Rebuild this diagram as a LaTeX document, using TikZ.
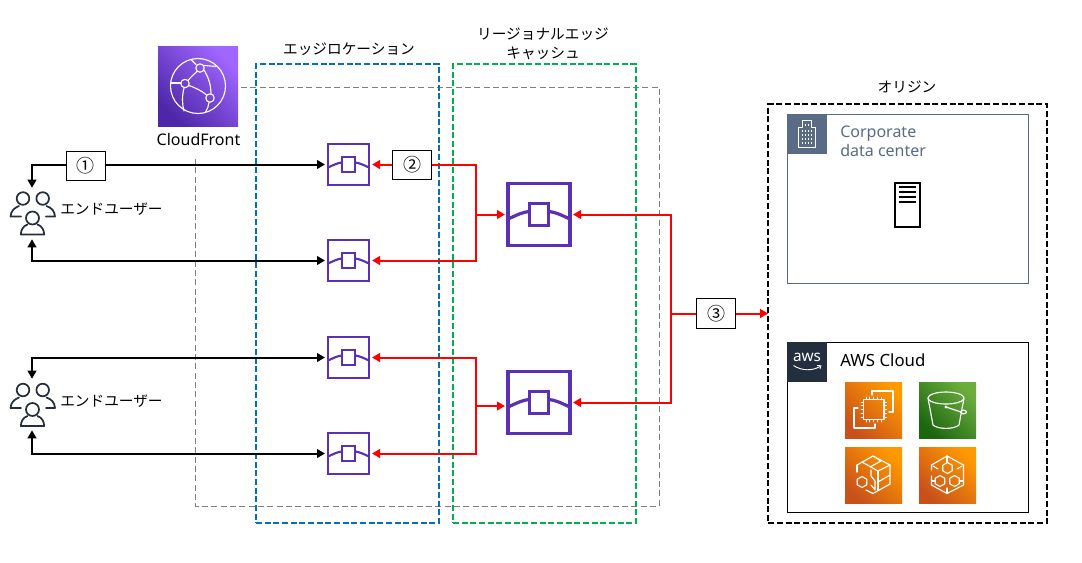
\documentclass[tikz,border=0pt]{standalone}
\usepackage{fontspec}
\setmainfont{Noto Sans}
\newfontfamily\jp{Noto Sans CJK JP}
\usetikzlibrary{arrows.meta,calc}
\definecolor{edgepurple}{HTML}{5A30B5}
\definecolor{cfa}{HTML}{4D27A8}
\definecolor{cfb}{HTML}{A166FF}
\definecolor{ora}{HTML}{C8511B}
\definecolor{orb}{HTML}{FF9900}
\definecolor{gra}{HTML}{1B660F}
\definecolor{grb}{HTML}{6CAE3E}
\definecolor{awsdark}{HTML}{232F3E}
\definecolor{corp}{HTML}{5A6B86}
\definecolor{locblue}{HTML}{0070C0}
\definecolor{regreen}{HTML}{00B050}
\definecolor{zonegray}{HTML}{7F7F7F}
\tikzset{
  jptext/.style={font=\jp\fontsize{11}{14.25}\selectfont,inner sep=0pt,align=center},
  lattext/.style={font=\fontsize{12}{14.25}\selectfont,inner sep=0pt,align=left},
  zonebox/.style={draw,line width=1.5pt,dash pattern=on 4.5pt off 2pt,inner sep=0pt,outer sep=0pt},
  edgesmall/.style={draw=edgepurple,line width=1.7pt,fill=white,minimum size=30.75pt,inner sep=0pt,outer sep=0pt},
  edgebig/.style={draw=edgepurple,line width=2.5pt,fill=white,minimum size=46.5pt,inner sep=0pt,outer sep=0pt},
  numbox/.style={draw=black,line width=.75pt,fill=white,minimum width=29.25pt,minimum height=22pt,inner sep=0pt,font=\jp\fontsize{13.5}{14}\selectfont},
  blk/.style={draw=black,line width=1.5pt,{Triangle[length=6pt,width=6.5pt]}-{Triangle[length=6pt,width=6.5pt]}},
  rdl/.style={draw=red,line width=1.5pt,-{Triangle[length=6pt,width=6.5pt]}},
  ico/.style={draw=white,line width=.85pt,line cap=round,line join=round},
  tile/.style={inner sep=0pt,outer sep=0pt,minimum width=42.75pt,minimum height=42pt},
  orangetile/.style={tile,shading=axis,left color=ora,right color=orb,shading angle=135},
  greentile/.style={tile,shading=axis,left color=gra,right color=grb,shading angle=135},
  peop/.style={draw=awsdark,line width=1.3pt,line cap=round,line join=round},
  usernode/.style={inner sep=0pt,minimum width=34pt,minimum height=38.25pt},
}
\newcommand{\smallhex}[3]{%
  \draw[ico] ($(#1,#2)+(0,-#3)$) -- ++(.866*#3,.5*#3) -- ++(0,#3) -- ++(-.866*#3,.5*#3) -- ++(-.866*#3,-.5*#3) -- ++(0,-#3) -- cycle;}
\newcommand{\edgeglyph}[3]{%
  \begin{scope}[shift={(#1,#2)},scale=#3]
    \draw[edgepurple,line width=#3*1.6pt] (-20.5,3) .. controls (-14,0) and (-11,-1.5) .. (-6.5,-2);
    \draw[edgepurple,line width=#3*1.6pt] (20.5,3) .. controls (14,0) and (11,-1.5) .. (6.5,-2);
    \draw[edgepurple,line width=#3*1.6pt,fill=white] (-6.5,-7.5) rectangle (6.5,7.5);
  \end{scope}}
\newcommand{\usersglyph}[1]{%
  \begin{scope}[shift={(0,#1)}]
    \draw[peop] (23,198.5) circle (6.3);
    \draw[peop] (42.7,198.5) circle (6.3);
    \draw[peop] (19,206) .. controls (14,208) and (11,211) .. (10.5,216.5) -- (21,216.5);
    \draw[peop] (46.5,206) .. controls (52,208) and (54.5,211) .. (55,216.5) -- (46,216.5);
    \draw[peop] (32.5,218) circle (6.5);
    \draw[peop] (27.5,224.5) .. controls (23,226) and (21,230) .. (20.8,234.5) -- (44.2,234.5) .. controls (44,230) and (42,226) .. (37.5,224.5);
  \end{scope}}
\begin{document}
\begin{tikzpicture}[x=.75pt,y=-.75pt]
\useasboundingbox (0,0) rectangle (1082,562);
\fill[white] (0,0) rectangle (1082,562);

% grey zone
\draw[zonegray,line width=.75pt,dash pattern=on 4.5pt off 2.5pt] (241,87) -- (659,87) -- (659,506) -- (195.5,506) -- (195.5,159);

% location boxes
\node[zonebox,draw=locblue,minimum width=137.25pt,minimum height=344pt] (loc) at (347.5,293.5) {};
\node[zonebox,draw=regreen,minimum width=137.25pt,minimum height=344pt] (reg) at (544.5,293.5) {};
\node[jptext] (loclab) at (349,49) {エッジロケーション};
\node[jptext] (reglab) at (543,43.5) {リージョナルエッジ\\キャッシュ};

% CloudFront
\node[inner sep=0pt,outer sep=0pt,minimum size=60pt,shading=axis,left color=cfa,right color=cfb,shading angle=135] (cf) at (198,86) {};
\draw[ico] (198,86) circle (27.5);
\foreach \a/\b in {200/68,185/83.5,210/98}{\draw[ico] (\a,\b) circle (4.2);}
\draw[ico] (197,71.5) .. controls (193,75) and (190,78) .. (188,80.5);
\draw[ico] (189,85.5) .. controls (196,88) and (202,91) .. (206.5,95);
\draw[ico] (204,70) .. controls (209,78) and (211,86) .. (211,93.5);
\draw[ico] (184,88) .. controls (182,96) and (182,104) .. (184,111);
\draw[ico] (209,102.5) .. controls (208.5,106) and (207.5,109) .. (205.5,112);
\draw[ico] (171,83) -- (180.5,83);
\draw[ico] (191,59.5) -- (196,64.5);
\draw[ico] (204.5,65.5) -- (216,66.5);
\node[lattext] (cflab) at (198.5,139) {CloudFront};

% Edge icons
\node[edgesmall] (e1) at (348.5,164.5) {};
\node[edgesmall] (e2) at (348.5,260.5) {};
\node[edgesmall] (e3) at (348.5,357.5) {};
\node[edgesmall] (e4) at (348.5,453.5) {};
\edgeglyph{348.5}{164.5}{1}
\edgeglyph{348.5}{260.5}{1}
\edgeglyph{348.5}{357.5}{1}
\edgeglyph{348.5}{453.5}{1}
\node[edgebig] (r1) at (539,214.5) {};
\node[edgebig] (r2) at (539,402.5) {};
\edgeglyph{539}{214.5}{1.51}
\edgeglyph{539}{402.5}{1.51}

% Users
\node[usernode] (u1) at (32,213.5) {};
\node[usernode] (u2) at (32,404.5) {};
\usersglyph{0}
\usersglyph{191.5}
\node[jptext,anchor=west] (u1lab) at (60,209) {エンドユーザー};
\node[jptext,anchor=west] (u2lab) at (60,401) {エンドユーザー};

% Origin
\node[jptext] (origlab) at (907,87) {オリジン};
\node[zonebox,draw=black,minimum width=209pt,minimum height=314pt] (orig) at (907.5,313.5) {};

% Corporate data center
\node[draw=corp,line width=.75pt,fill=white,inner sep=0pt,minimum width=180.75pt,minimum height=126.75pt] (corpbox) at (907.5,198.5) {};
\node[fill=corp,inner sep=0pt,outer sep=0pt,minimum size=30pt] (corphead) at (807,134) {};
\draw[white,line width=.6pt,line join=round] (798.5,147.5) -- (798.5,127) -- (802,127) -- (802,120.5) -- (811,120.5) -- (811,127) -- (815,127) -- (815,147.5) -- cycle;
\foreach \a in {801.5,804.7,807.9,811.1}{\foreach \b in {130,134,138,142}{\fill[white] (\a,\b) rectangle ++(1.1,2);}}
\foreach \a in {804.7,807.9}{\fill[white] (\a,124) rectangle ++(1.1,2);}
\node[lattext,text=corp,anchor=north west] (corplab) at (840,126) {Corporate\\data center};
\node[draw=black,line width=1.3pt,fill=white,inner sep=0pt,minimum width=19pt,minimum height=33.5pt] (srv) at (907.5,205) {};
\foreach \b in {187,192,197,202}{\draw[black,line width=1.3pt] (899,\b) -- (916,\b);}

% AWS cloud
\node[draw=black,line width=.75pt,fill=white,inner sep=0pt,minimum width=180.75pt,minimum height=127.5pt] (awsbox) at (907.5,427) {};
\node[fill=awsdark,inner sep=0pt,outer sep=0pt,minimum size=30pt] (awshead) at (807,362) {};
\node[inner sep=0pt,text=white,font=\fontsize{11.5}{12}\selectfont] (awslogo) at (807,357) {aws};
\draw[white,line width=.7pt] (793.5,365.5) .. controls (802,371) and (812,371) .. (820,366.5);
\draw[white,line width=.6pt] (817,365.5) -- (821,365.7) -- (820,369);
\node[lattext,anchor=west,font=\fontsize{12.6}{14.25}\selectfont] (awslab) at (840,360) {AWS Cloud};

% EC2
\node[orangetile] (t1) at (873.5,410) {};
\draw[ico] (863.5,399.5) rectangle (884,419.5);
\foreach \k in {0,1,2,3,4}{
  \draw[ico,line width=.6pt] (866+3.8*\k,399.5) -- ++(0,-2.5);
  \draw[ico,line width=.6pt] (866+3.8*\k,419.5) -- ++(0,2.5);
  \draw[ico,line width=.6pt] (863.5,402+3.8*\k) -- ++(-2.5,0);
  \draw[ico,line width=.6pt] (884,402+3.8*\k) -- ++(2.5,0);
}
\draw[ico] (872,395) -- (872,391) -- (893,391) -- (893,412) -- (889,412);
\draw[ico] (858,408) -- (854,408) -- (854,428) -- (875,428) -- (875,424);

% S3
\node[greentile] (t2) at (947.5,410) {};
\draw[ico] (946,398) ellipse (18 and 6);
\draw[ico] (928,398) -- (933,425) .. controls (938,429.5) and (954,429.5) .. (959,425) -- (964,398);
\fill[white] (946,407) circle (1.6);
\draw[ico] (946,407) -- (961,412);
\draw[ico] (963.5,412) ellipse (3 and 1.8);

% Hex 1
\node[orangetile] (t3) at (873.5,475) {};
\draw[ico] (857,470) -- (857,465) -- (873,456) -- (890,465) -- (890,484) -- (873,493.5) -- (866,490);
\draw[ico] (862,462) -- (878,471) -- (890,465);
\draw[ico] (873,456) -- (881,461) -- (870,467);
\draw[ico] (878,471) -- (878,490);
\draw[ico] (871,470) -- (871,476) -- (875,481) -- (875,490) -- (871,485);
\draw[ico] (878,482) -- (890,475);
\draw[ico] (857,465) -- (857,472);
\smallhex{862}{482}{5.5}

% Hex 2
\node[orangetile] (t4) at (947.5,475) {};
\draw[ico] (931.5,470) -- (931.5,465) -- (947,456) -- (963.5,465) -- (963.5,485) -- (947,493.5) -- (931.5,485) -- (931.5,476);
\smallhex{947.5}{468}{5.5}
\smallhex{940}{481}{5.5}
\smallhex{954.5}{481}{5.5}
\draw[ico] (947,456) -- (947,462.5);
\draw[ico] (933,466) -- (938,469);
\draw[ico] (962,466) -- (957,469);
\draw[ico] (947,488) -- (947,493);
\draw[ico] (931.5,481) -- (934.5,481);
\draw[ico] (963.5,481) -- (960,481);

% Connectors
\coordinate (j1) at (476,214.5);
\coordinate (j2) at (476,406);
\coordinate (j3) at (671,313.5);
\draw[blk,shorten >=2.25pt] (u1.north) |- (e1.west);
\draw[blk,shorten >=2.25pt] (u1.south) |- (e2.west);
\draw[blk,shorten >=2.25pt] (u2.north) |- (e3.west);
\draw[blk,shorten >=2.25pt] (u2.south) |- (e4.west);
\draw[rdl,shorten >=2.25pt] (j1) |- (e1.east);
\draw[rdl,shorten >=2.25pt] (j1) |- (e2.east);
\draw[rdl,shorten >=2.25pt] (j1) -- (j1 -| r1.west);
\draw[rdl,shorten >=2.25pt] (j2) |- (e3.east);
\draw[rdl,shorten >=2.25pt] (j2) |- (e4.east);
\draw[rdl,shorten >=2.25pt] (j2) -- (j2 -| r2.west);
\draw[rdl,shorten >=2.25pt] (j3) |- (r1.east);
\draw[rdl,shorten >=2.25pt] (j3) |- (r2.east);
\draw[rdl] (j3) -- (j3 -| orig.west);

% Number labels
\node[numbox] (n1) at (85.5,166) {①};
\node[numbox] (n2) at (412,165) {②};
\node[numbox] (n3) at (716,313.5) {③};
\end{tikzpicture}
\end{document}
